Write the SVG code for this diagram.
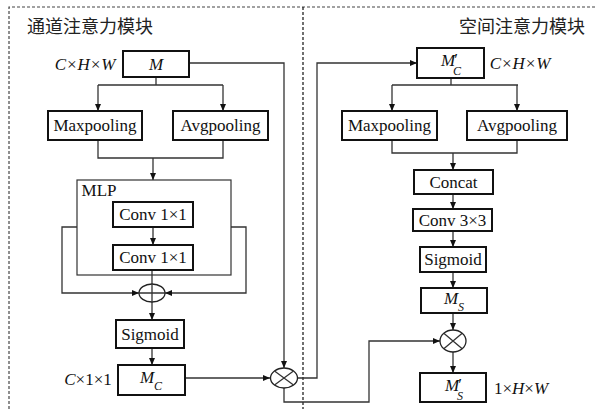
<svg xmlns="http://www.w3.org/2000/svg" width="596" height="409" viewBox="0 0 596 409">
<style>
.box{fill:#fff;stroke:#111;stroke-width:2}
.thin{fill:none;stroke:#333;stroke-width:1.2}
.ln{fill:none;stroke:#333;stroke-width:1.3}
.dash{fill:none;stroke:#444;stroke-width:1.2;stroke-dasharray:3 2}
text.t{font-size:17px;fill:#111;text-anchor:middle;dominant-baseline:central}
.i{font-style:italic}
.s{font-size:12px;font-style:italic}
.p{font-size:17px;font-style:normal}
.cn{font-size:18px;fill:#222}
.op{fill:#fff;stroke:#222;stroke-width:1.3}
</style>
<defs>
<marker id="ah" markerWidth="7" markerHeight="6" refX="7" refY="3" orient="auto" markerUnits="userSpaceOnUse">
<path d="M0,0 L7,3 L0,6 Z" fill="#111"/>
</marker>
</defs>
<rect width="596" height="409" fill="#fff"/>
<g id="frame">
<path class="dash" d="M9,409 V7 H596"/>
<path class="dash" d="M303,7 V409" style="stroke:#111"/>
<text class="cn" x="27" y="33" font-family="'Noto Sans CJK SC', sans-serif">通道注意力模块</text>
<text class="cn" x="585" y="33" text-anchor="end" font-family="'Noto Sans CJK SC', sans-serif">空间注意力模块</text>
</g>
<g id="connectors">
<path class="ln" d="M156,77 V85 M98,85 H223"/>
<path class="ln" d="M98,85 V111" marker-end="url(#ah)"/>
<path class="ln" d="M223,85 V111" marker-end="url(#ah)"/>
<path class="ln" d="M98,140 V158 H223 V140"/>
<path class="ln" d="M153,158 V180" marker-end="url(#ah)"/>
<path class="ln" d="M153,227 V245" marker-end="url(#ah)"/>
<path class="ln" d="M77,227 H62 V293 H139" marker-end="url(#ah)"/>
<path class="ln" d="M231,227 H246 V293 H165" marker-end="url(#ah)"/>
<path class="ln" d="M152,270 V320" marker-end="url(#ah)"/>
<path class="ln" d="M152,348 V365" marker-end="url(#ah)"/>
<path class="ln" d="M185,378 H270" marker-end="url(#ah)"/>
<path class="ln" d="M189,63 H284 V368" marker-end="url(#ah)"/>
<path class="ln" d="M298,378 H317 V63 H417" marker-end="url(#ah)"/>
<path class="ln" d="M284,388 V402 H369 V341 H440" marker-end="url(#ah)"/>
<path class="ln" d="M451,78 V85 M392,85 H518"/>
<path class="ln" d="M392,85 V111" marker-end="url(#ah)"/>
<path class="ln" d="M517,85 V111" marker-end="url(#ah)"/>
<path class="ln" d="M392,140 V153 H517 V140"/>
<path class="ln" d="M453,153 V170" marker-end="url(#ah)"/>
<path class="ln" d="M453,194 V209" marker-end="url(#ah)"/>
<path class="ln" d="M453,231 V247" marker-end="url(#ah)"/>
<path class="ln" d="M453,272 V288" marker-end="url(#ah)"/>
<path class="ln" d="M453,313 V330" marker-end="url(#ah)"/>
<path class="ln" d="M453,352 V373" marker-end="url(#ah)"/>
</g>
<g font-family="'Liberation Serif', 'Times New Roman', Tinos, serif">
<g id="M">
<rect class="box" x="123" y="51" width="66" height="26"/>
<text class="t i" x="156" y="64">M</text>
<text class="t i" x="85" y="64">C×H×W</text>
</g>
<g id="maxpool-c">
<rect class="box" x="48" y="111" width="94" height="29"/>
<text class="t" x="95" y="125.5">Maxpooling</text>
</g>
<g id="avgpool-c">
<rect class="box" x="173" y="111" width="95" height="29"/>
<text class="t" x="220.5" y="125.5">Avgpooling</text>
</g>
<g id="mlp">
<rect class="thin" x="77" y="180" width="154" height="95"/>
<text class="t" x="99" y="190">MLP</text>
</g>
<g id="conv1">
<rect class="box" x="113" y="202" width="80" height="25"/>
<text class="t" x="153" y="214.5">Conv 1×1</text>
</g>
<g id="conv2">
<rect class="box" x="113" y="245" width="80" height="25"/>
<text class="t" x="153" y="257.5">Conv 1×1</text>
</g>
<g id="add">
<ellipse class="op" cx="152" cy="293" rx="13" ry="9"/>
<path class="ln" d="M139,293 H165 M152,284 V302"/>
</g>
<g id="sigmoid-c">
<rect class="box" x="116" y="320" width="68" height="28"/>
<text class="t" x="150" y="334">Sigmoid</text>
</g>
<g id="Mc">
<rect class="box" x="118" y="365" width="67" height="30"/>
<text class="t i" x="151" y="377">M<tspan class="s" dy="9">C</tspan></text>
<text class="t i" x="88" y="379">C<tspan font-style="normal">×1×1</tspan></text>
</g>
<g id="mul1">
<ellipse class="op" cx="284" cy="378" rx="13.5" ry="10"/>
<path class="ln" d="M274.5,371 L293.5,385 M293.5,371 L274.5,385"/>
</g>
<g id="Mc2">
<rect class="box" x="417" y="48" width="67" height="30"/>
<text class="t i" x="451" y="60">M<tspan class="p" dx="-1" dy="-1">′</tspan><tspan class="s" dx="-5" dy="12">C</tspan></text>
<text class="t i" x="520" y="63">C×H×W</text>
</g>
<g id="maxpool-s">
<rect class="box" x="342" y="111" width="95" height="29"/>
<text class="t" x="389.5" y="125.5">Maxpooling</text>
</g>
<g id="avgpool-s">
<rect class="box" x="467" y="111" width="100" height="29"/>
<text class="t" x="517" y="125.5">Avgpooling</text>
</g>
<g id="concat">
<rect class="box" x="414" y="170" width="79" height="24"/>
<text class="t" x="453.5" y="182">Concat</text>
</g>
<g id="conv3">
<rect class="box" x="413" y="209" width="79" height="22"/>
<text class="t" x="452.5" y="220">Conv 3×3</text>
</g>
<g id="sigmoid-s">
<rect class="box" x="420" y="247" width="66" height="25"/>
<text class="t" x="453" y="259.5">Sigmoid</text>
</g>
<g id="Ms">
<rect class="box" x="421" y="288" width="66" height="25"/>
<text class="t i" x="454" y="298">M<tspan class="s" dy="9">S</tspan></text>
</g>
<g id="mul2">
<ellipse class="op" cx="453" cy="341" rx="13" ry="11"/>
<path class="ln" d="M443.8,333.2 L462.2,348.8 M462.2,333.2 L443.8,348.8"/>
</g>
<g id="Ms2">
<rect class="box" x="420" y="373" width="66" height="29"/>
<text class="t i" x="454" y="385">M<tspan class="p" dx="-1" dy="-1">′</tspan><tspan class="s" dx="-5" dy="12">S</tspan></text>
<text class="t" x="521" y="388">1×<tspan font-style="italic">H</tspan>×<tspan font-style="italic">W</tspan></text>
</g>
</g>
</svg>
